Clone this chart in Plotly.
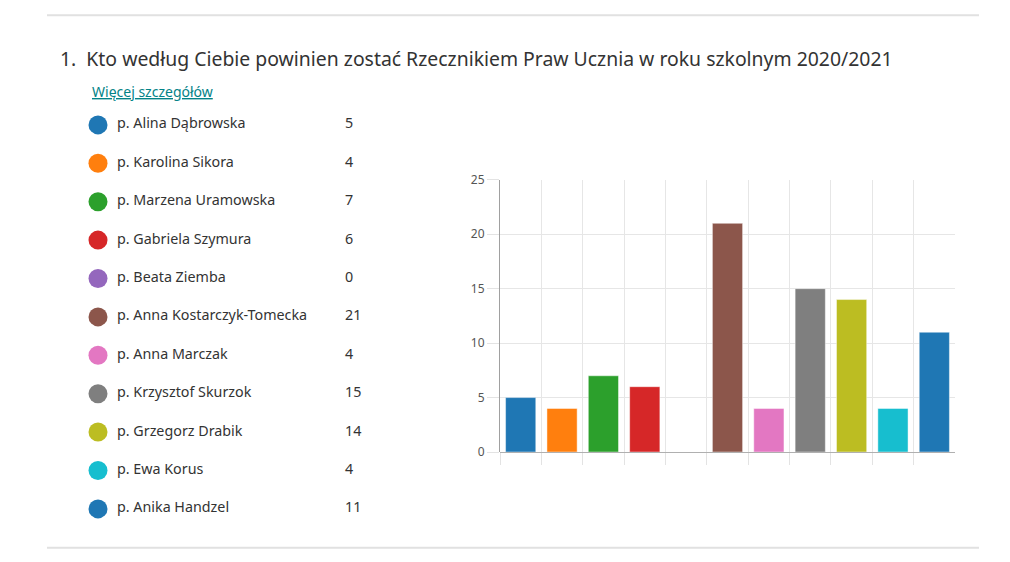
import plotly.graph_objects as go

# ---------------- data ----------------
names = [
    "p. Alina Dąbrowska", "p. Karolina Sikora", "p. Marzena Uramowska",
    "p. Gabriela Szymura", "p. Beata Ziemba", "p. Anna Kostarczyk-Tomecka",
    "p. Anna Marczak", "p. Krzysztof Skurzok", "p. Grzegorz Drabik",
    "p. Ewa Korus", "p. Anika Handzel",
]
votes = [5, 4, 7, 6, 0, 21, 4, 15, 14, 4, 11]
colors = [
    "#1f77b4", "#ff7f0e", "#2ca02c", "#d62728", "#9467bd", "#8c564b",
    "#e377c2", "#7f7f7f", "#bcbd22", "#17becf", "#1f77b4",
]
y_ticks = [0, 5, 10, 15, 20, 25]
title_text = "1.  Kto według Ciebie powinien zostać Rzecznikiem Praw Ucznia w roku szkolnym 2020/2021"
link_text = "Więcej szczegółów"

W, H = 1010, 562
# the page is photographed with a small vertical offset/scale
V_OFF, V_SCALE = 7.8, 0.9723
FONT = "Noto Sans"

# legend column positions (layout, in page pixels)
LEG_W = 440
DOT_X, NAME_X, VALUE_X = 98, 118, 346


def px(x):
    return x / W


def py(y):
    return 1 - ((y - V_OFF) / V_SCALE) / H


fig = go.Figure()

# main bar chart
fig.add_trace(go.Bar(
    x=names, y=votes,
    marker=dict(color=colors, line=dict(color="rgba(255,255,255,0.45)", width=1)),
    xaxis="x", yaxis="y", hoverinfo="x+y", showlegend=False,
))

n = len(names)
# legend list (dots, names, values) on its own axes
fig.add_trace(go.Scatter(
    x=[DOT_X] * n, y=names, mode="markers",
    marker=dict(color=colors, size=19, line=dict(width=0)),
    xaxis="x2", yaxis="y2", showlegend=False, hoverinfo="skip",
))
fig.add_trace(go.Scatter(
    x=[NAME_X - 1] * n, y=names, mode="text", text=names,
    textposition="middle right",
    textfont=dict(family=FONT, size=14.3, color="#333333"),
    xaxis="x2", yaxis="y2", showlegend=False, hoverinfo="skip",
))
fig.add_trace(go.Scatter(
    x=[VALUE_X - 1] * n, y=names, mode="text", text=[str(v) for v in votes],
    textposition="middle right",
    textfont=dict(family=FONT, size=14.3, color="#333333"),
    xaxis="x2", yaxis="y2", showlegend=False, hoverinfo="skip",
))

fig.update_layout(
    width=W, height=H, autosize=False,
    margin=dict(l=0, r=0, t=0, b=0, pad=0),
    paper_bgcolor="white", plot_bgcolor="rgba(0,0,0,0)",
    bargap=0.27,
    font=dict(family=FONT, color="#333333"),
    xaxis=dict(
        domain=[px(500), px(955)],
        showticklabels=False,
        tickson="boundaries", ticks="outside", ticklen=12, tickcolor="#e3e3e3",
        showgrid=True, gridcolor="#e6e6e6", gridwidth=1,
        showline=False, zeroline=False, fixedrange=True,
    ),
    yaxis=dict(
        domain=[py(452), py(179)],
        range=[0, 25], tickvals=y_ticks,
        ticks="outside", ticklen=12, tickcolor="#e3e3e3",
        tickfont=dict(family=FONT, size=12, color="#555555"),
        showgrid=True, gridcolor="#e6e6e6", gridwidth=1,
        showline=True, linecolor="#a0a0a0", linewidth=1,
        zeroline=True, zerolinecolor="#b0b0b0", zerolinewidth=1,
        fixedrange=True,
    ),
    xaxis2=dict(
        domain=[0, px(LEG_W)], range=[0, LEG_W], anchor="y2",
        visible=False, fixedrange=True,
    ),
    yaxis2=dict(
        domain=[py(509 + 19.25), py(124 - 19.25)],
        range=[n - 0.5, -0.5], type="category",
        visible=False, fixedrange=True, anchor="x2",
    ),
    shapes=[
        dict(type="line", xref="paper", yref="paper", x0=px(47), x1=px(979),
             y0=py(14), y1=py(14), line=dict(color="#e1e1e1", width=2)),
        dict(type="line", xref="paper", yref="paper", x0=px(47), x1=px(979),
             y0=py(548), y1=py(548), line=dict(color="#e1e1e1", width=2)),
    ],
    annotations=[
        dict(text=title_text, xref="paper", yref="paper", x=px(58), y=py(57),
             xanchor="left", yanchor="middle", showarrow=False,
             font=dict(family=FONT, size=19.4, color="#333333")),
        dict(text="<u>" + link_text + "</u>", xref="paper", yref="paper",
             x=px(90), y=py(91), xanchor="left", yanchor="middle", showarrow=False,
             font=dict(family=FONT, size=14, color="#038387")),
    ],
)

fig.write_html("out.html")
